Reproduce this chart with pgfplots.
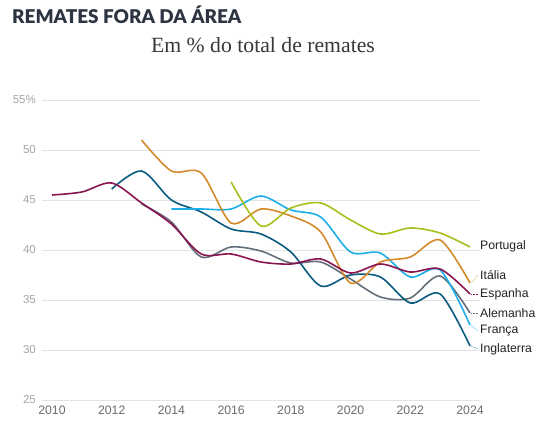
\documentclass[border=0pt]{standalone}
\usepackage{fontspec}
\setmainfont{Liberation Sans}
\newfontfamily\titlefont{Lato Black}
\newfontfamily\subfont{Liberation Serif}
\usepackage{pgfplots}
\pgfplotsset{compat=1.18}
\definecolor{cPor}{HTML}{A9BE1C}
\definecolor{cIta}{HTML}{D4892A}
\definecolor{cEsp}{HTML}{8A1450}
\definecolor{cAle}{HTML}{636E7B}
\definecolor{cFra}{HTML}{1CAEE8}
\definecolor{cIng}{HTML}{0B5A80}
\definecolor{cTitle}{HTML}{2B3440}
\definecolor{gridgray}{HTML}{E3E3E3}
\definecolor{ytick}{HTML}{A6A6A6}
\definecolor{xtick}{HTML}{6A6A6A}
\definecolor{lab}{HTML}{222222}
\begin{document}
\begin{tikzpicture}
\useasboundingbox (0bp,0bp) rectangle (545bp,426bp);
\node[anchor=base west, font=\titlefont\fontsize{19}{22}\selectfont, text=cTitle, inner sep=0pt] at (12bp,402bp) {REMATES FORA DA ÁREA};
\node[anchor=base, font=\subfont\fontsize{21.8}{26}\selectfont, text=lab!90, inner sep=0pt] at (263bp,373bp) {Em \% do total de remates};
\begin{axis}[
  at={(42bp,26bp)}, anchor=south west, scale only axis,
  width=438bp, height=300bp,
  xmin=2009.665, xmax=2024.335, ymin=25, ymax=55,
  clip=false,
  axis line style={draw=none}, tick style={draw=none},
  ymajorgrids, major grid style={draw=gridgray, line width=0.8pt},
  xtick={2010,2012,...,2024}, ytick={25,30,...,55},
  yticklabels={25,30,35,40,45,50,55\%},
  /pgf/number format/1000 sep={},
  /pgf/number format/assume math mode=true,
  yticklabel style={font=\fontsize{11.5}{13}\selectfont, text=ytick, inner sep=0pt, xshift=-6bp},
  xticklabel style={font=\fontsize{12.3}{14}\selectfont, text=xtick, inner sep=0pt, yshift=-6bp},
  every axis plot/.append style={line width=1.6bp, smooth, no markers},
]
\addplot[cAle] coordinates {(2013,44.6)(2014,42.8)(2015,39.3)(2016,40.3)(2017,39.9)(2018,38.7)(2019,38.8)(2020,37.1)(2021,35.3)(2022,35.2)(2023,37.4)(2024,33.7)};
\addplot[cIng] coordinates {(2012,46.1)(2013,47.9)(2014,45.0)(2015,43.8)(2016,42.1)(2017,41.6)(2018,39.8)(2019,36.4)(2020,37.5)(2021,37.3)(2022,34.7)(2023,35.6)(2024,30.4)};
\addplot[cFra] coordinates {(2014,44.1)(2015,44.1)(2016,44.1)(2017,45.4)(2018,44.0)(2019,43.3)(2020,39.8)(2021,39.7)(2022,37.3)(2023,38.0)(2024,32.5)};
\addplot[cIta] coordinates {(2013,51.0)(2014,47.9)(2015,47.7)(2016,42.7)(2017,44.1)(2018,43.4)(2019,41.8)(2020,36.7)(2021,38.8)(2022,39.3)(2023,41.0)(2024,36.7)};
\addplot[cPor] coordinates {(2016,46.8)(2017,42.4)(2018,44.2)(2019,44.7)(2020,43.0)(2021,41.6)(2022,42.2)(2023,41.7)(2024,40.3)};
\addplot[cEsp] coordinates {(2010,45.5)(2011,45.8)(2012,46.7)(2013,44.7)(2014,42.6)(2015,39.6)(2016,39.6)(2017,38.8)(2018,38.6)(2019,39.1)(2020,37.7)(2021,38.6)(2022,37.8)(2023,38.1)(2024,35.6)};
% labels
\tikzset{lbl/.style={anchor=west, font=\fontsize{12.3}{14}\selectfont, text=lab, inner sep=0pt}}
\node[lbl] at ([xshift=10bp]axis cs:2024,40.4) {Portugal};
\node[lbl] at ([xshift=10bp]axis cs:2024,37.5) {Itália};
\node[lbl] at ([xshift=10bp]axis cs:2024,35.6) {Espanha};
\node[lbl] at ([xshift=10bp]axis cs:2024,33.7) {Alemanha};
\node[lbl] at ([xshift=10bp]axis cs:2024,31.9) {França};
\node[lbl] at ([xshift=10bp]axis cs:2024,30.1) {Inglaterra};
\draw[cIta, densely dotted, line width=0.6bp] ([xshift=1bp]axis cs:2024,36.7) -- ([xshift=8bp]axis cs:2024,37.5);
\draw[cEsp, densely dotted, line width=0.6bp] ([xshift=1bp]axis cs:2024,35.6) -- ([xshift=8bp]axis cs:2024,35.6);
\draw[cAle, densely dotted, line width=0.6bp] ([xshift=1bp]axis cs:2024,33.7) -- ([xshift=8bp]axis cs:2024,33.7);
\draw[cFra, densely dotted, line width=0.6bp] ([xshift=1bp]axis cs:2024,32.5) -- ([xshift=8bp]axis cs:2024,31.9);
\draw[cIng, densely dotted, line width=0.6bp] ([xshift=1bp]axis cs:2024,30.4) -- ([xshift=8bp]axis cs:2024,30.1);
\end{axis}
\end{tikzpicture}
\end{document}
